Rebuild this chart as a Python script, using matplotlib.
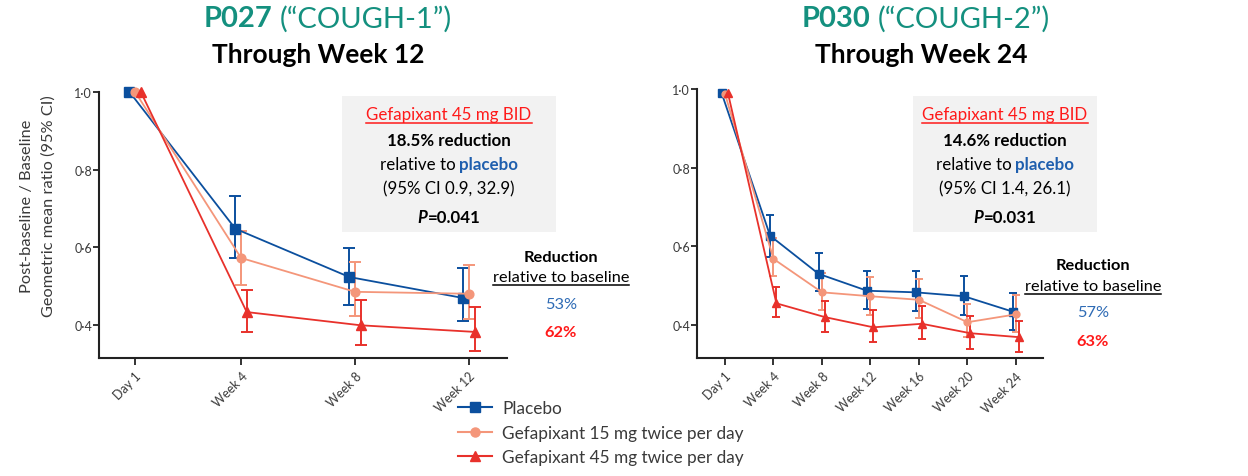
import numpy as np
import matplotlib
matplotlib.use("Agg")
import matplotlib.pyplot as plt
from matplotlib.lines import Line2D
from matplotlib.patches import Rectangle
from matplotlib.ticker import FuncFormatter

plt.rcParams['font.family'] = ['Lato', 'DejaVu Sans']

# ---- data: P027 (COUGH-1), through week 12 ----
p027_labels = ["Day 1", "Week 4", "Week 8", "Week 12"]
p027_placebo = [1.0, 0.648, 0.524, 0.470]
p027_placebo_lo = [np.nan, 0.573, 0.451, 0.410]
p027_placebo_hi = [np.nan, 0.732, 0.598, 0.548]
p027_g15 = [1.0, 0.573, 0.486, 0.481]
p027_g15_lo = [np.nan, 0.504, 0.425, 0.417]
p027_g15_hi = [np.nan, 0.642, 0.562, 0.554]
p027_g45 = [1.0, 0.434, 0.400, 0.383]
p027_g45_lo = [np.nan, 0.383, 0.350, 0.333]
p027_g45_hi = [np.nan, 0.491, 0.464, 0.448]

# ---- data: P030 (COUGH-2), through week 24 ----
p030_labels = ["Day 1", "Week 4", "Week 8", "Week 12", "Week 16", "Week 20", "Week 24"]
p030_placebo = [0.99, 0.627, 0.530, 0.487, 0.483, 0.473, 0.434]
p030_placebo_lo = [np.nan, 0.574, 0.486, 0.441, 0.435, 0.426, 0.387]
p030_placebo_hi = [np.nan, 0.680, 0.584, 0.536, 0.536, 0.525, 0.481]
p030_g15 = [0.988, 0.568, 0.483, 0.473, 0.464, 0.407, 0.427]
p030_g15_lo = [np.nan, 0.525, 0.438, 0.426, 0.417, 0.370, 0.382]
p030_g15_hi = [np.nan, 0.621, 0.532, 0.521, 0.516, 0.453, 0.476]
p030_g45 = [0.99, 0.455, 0.420, 0.394, 0.403, 0.379, 0.369]
p030_g45_lo = [np.nan, 0.421, 0.382, 0.356, 0.364, 0.339, 0.332]
p030_g45_hi = [np.nan, 0.497, 0.462, 0.439, 0.449, 0.424, 0.411]

series_names = ["Placebo", "Gefapixant 15 mg twice per day", "Gefapixant 45 mg twice per day"]
reduction_p027 = ["53%", "62%"]
reduction_p030 = ["57%", "63%"]

C_PLA = "#0b4f9e"
C_15 = "#f4967a"
C_45 = "#e8312b"
TEAL = "#14907f"
GREY = "#3a3a3a"

W, H = 1248, 477
fig = plt.figure(figsize=(W / 100, H / 100), dpi=100)


def fx(px):
    return px / W


def fy(py):
    return 1 - py / H


def draw_panel(ax, xpos, labels, groups, dodge, ms, capsize, xlim):
    styles = [(C_PLA, 's', ms), (C_15, 'o', ms * 0.9), (C_45, '^', ms)]
    for (vals, lo, hi), (col, mk, size), d in zip(groups, styles, dodge):
        x = np.array(xpos) + d
        vals = np.array(vals)
        err = np.vstack([vals - np.array(lo), np.array(hi) - vals])
        ax.errorbar(x, vals, yerr=err, fmt='none', ecolor=col, elinewidth=1.4,
                    capsize=capsize, capthick=1.4, clip_on=False, zorder=2)
        ax.plot(x, vals, color=col, lw=1.3, marker=mk, ms=size, clip_on=False, zorder=3)
    ax.patch.set_visible(False)
    ax.set_xlim(*xlim)
    ax.set_ylim(0.316, 1.0)
    ax.set_yticks([0.4, 0.6, 0.8, 1.0])
    ax.yaxis.set_major_formatter(FuncFormatter(lambda v, p: f"{v:.1f}".replace('.', '\u00b7')))
    ax.set_xticks(xpos)
    ax.set_xticklabels(labels, rotation=45, ha='right', rotation_mode='anchor')
    for s in ['top', 'right']:
        ax.spines[s].set_visible(False)
    for s in ['left', 'bottom']:
        ax.spines[s].set_linewidth(1.5)
        ax.spines[s].set_color('#222222')
    ax.tick_params(axis='both', length=5, width=1.4, color='#333333',
                   labelsize=9, labelcolor=GREY)
    ax.tick_params(axis='y', pad=1, length=4)


ax1 = fig.add_axes([fx(99), fy(359), fx(408), (359 - 92.7) / H])
draw_panel(ax1, [0.07, 1, 2, 3], p027_labels,
           [(p027_placebo, p027_placebo_lo, p027_placebo_hi),
            (p027_g15, p027_g15_lo, p027_g15_hi),
            (p027_g45, p027_g45_lo, p027_g45_hi)],
           [-0.05, 0.0, 0.05], 7, 4, (-0.246, 3.333))

ax2 = fig.add_axes([fx(697), fy(359), fx(346), (359 - 90) / H])
draw_panel(ax2, list(range(7)), p030_labels,
           [(p030_placebo, p030_placebo_lo, p030_placebo_hi),
            (p030_g15, p030_g15_lo, p030_g15_hi),
            (p030_g45, p030_g45_lo, p030_g45_hi)],
           [-0.07, 0.0, 0.06], 5.5, 3.2, (-0.577, 6.557))

fig.text(fx(27), fy(206), "Post-baseline / Baseline", rotation=90, ha='center', va='center',
         fontsize=11.8, color=GREY)
fig.text(fx(49), fy(206), "Geometric mean ratio (95% CI)", rotation=90, ha='center', va='center',
         fontsize=11.8, color=GREY)

fig.canvas.draw()
renderer = fig.canvas.get_renderer()


def rich(x, y, parts, gap=0.0):
    """Place a row of differently styled pieces centred at pixel (x, y)."""
    texts = [fig.text(0, 0, s, ha='left', va='center', **kw) for s, kw in parts]
    widths = [t.get_window_extent(renderer).width for t in texts]
    total = sum(widths) + gap * (len(texts) - 1)
    x0 = x - total / 2
    for t, w in zip(texts, widths):
        t.set_position((fx(x0), fy(y)))
        x0 += w + gap
    return texts


def underline(t, color):
    bb = t.get_window_extent(renderer)
    y = bb.y0 - 1
    fig.add_artist(Line2D([bb.x0 / W, bb.x1 / W], [y / H, y / H], color=color, lw=1.1))


# titles
for cx1, cx2, code, study, sub in [(328, 318, "P027", "(\u201cCOUGH-1\u201d)", "Through Week 12"),
                                    (926, 921, "P030", "(\u201cCOUGH-2\u201d)", "Through Week 24")]:
    rich(cx1, 19, [(code, dict(fontsize=21, fontweight='bold', color=TEAL)),
                   (study, dict(fontsize=21, color=TEAL))], gap=7)
    fig.text(fx(cx2), fy(55), sub, ha='center', va='center', fontsize=19,
             fontweight='bold', color='black')

# grey boxes with treatment effect
FS = 12.2
for (bx0, bx1, cx, red, ci, pval) in [(342, 556, 449, "18.5% reduction", "(95% CI 0.9, 32.9)", "=0.041"),
                                        (913, 1097, 1005, "14.6% reduction", "(95% CI 1.4, 26.1)", "=0.031")]:
    fig.add_artist(Rectangle((fx(bx0), fy(233)), fx(bx1 - bx0), (233 - 97) / H,
                             facecolor='#f2f2f2', edgecolor='none', zorder=-1))
    t = fig.text(fx(cx), fy(115), "Gefapixant 45 mg BID", ha='center', va='center',
                 fontsize=FS, color='#ff1a1a')
    underline(t, '#ff1a1a')
    fig.text(fx(cx), fy(141), red, ha='center', va='center', fontsize=FS,
             fontweight='bold', color='black')
    rich(cx, 165, [("relative to", dict(fontsize=FS, color='black')),
                   ("placebo", dict(fontsize=FS, fontweight='bold', color='#1f5fae'))], gap=4)
    fig.text(fx(cx), fy(189), ci, ha='center', va='center', fontsize=FS, color='black')
    rich(cx, 218, [("P", dict(fontsize=FS, fontweight='bold', style='italic', color='black')),
                   (pval, dict(fontsize=FS, fontweight='bold', color='black'))])

# reduction relative to baseline
for (cx, ys, vals) in [(561, (258, 278, 305, 333), reduction_p027),
                       (1093, (266, 287, 313, 342), reduction_p030)]:
    fig.text(fx(cx), fy(ys[0]), "Reduction", ha='center', va='center', fontsize=11.8,
             fontweight='bold', color='black')
    t = fig.text(fx(cx), fy(ys[1]), "relative to baseline", ha='center', va='center',
                 fontsize=11.8, color='black')
    underline(t, 'black')
    fig.text(fx(cx), fy(ys[2]), vals[0], ha='center', va='center', fontsize=11.8, color='#2e6bb5')
    fig.text(fx(cx), fy(ys[3]), vals[1], ha='center', va='center', fontsize=11.8,
             fontweight='bold', color='#ff1a1a')

# legend
handles = [Line2D([], [], color=C_PLA, marker='s', ms=7, lw=1.5),
           Line2D([], [], color=C_15, marker='o', ms=6.5, lw=1.5),
           Line2D([], [], color=C_45, marker='^', ms=7, lw=1.5)]
fig.legend(handles, series_names, loc='upper left', bbox_to_anchor=(fx(458), fy(401)),
           frameon=False, fontsize=12.4, labelcolor=GREY, handlelength=2.0,
           handletextpad=0.55, labelspacing=0.5, borderaxespad=0, borderpad=0)

fig.savefig("out.png", dpi=100)
